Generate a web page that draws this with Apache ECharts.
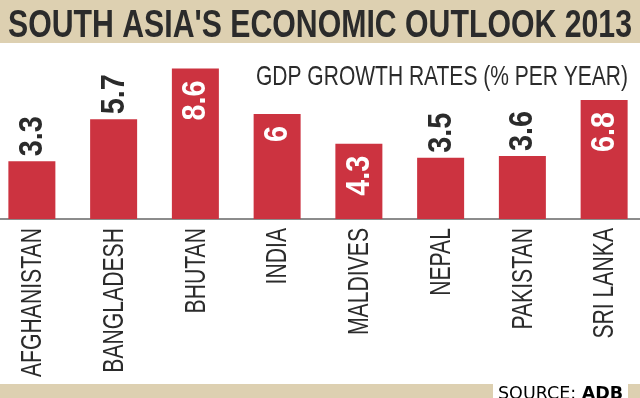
<!DOCTYPE html>
<html>
<head>
<meta charset="utf-8">
<script src="https://cdn.jsdelivr.net/npm/echarts@6/dist/echarts.min.js"></script>
<style>
  html, body { margin: 0; padding: 0; background: #fff; }
  #chart { width: 640px; height: 398px; }
</style>
</head>
<body>
<div id="chart"></div>
<script>
// data
var countries = ['AFGHANISTAN', 'BANGLADESH', 'BHUTAN', 'INDIA', 'MALDIVES', 'NEPAL', 'PAKISTAN', 'SRI LANKA'];
var growth = [3.3, 5.7, 8.6, 6, 4.3, 3.5, 3.6, 6.8];
// which values are printed inside the bar
var labelInside = ['BHUTAN', 'INDIA', 'MALDIVES', 'SRI LANKA'];

var face = "'Liberation Sans', Arial, sans-serif";
var red = '#cc3340';
var tan = '#ddd0b1';
var ink = '#2b2b2b';

// the original uses a condensed face, so squeeze the text to the measured widths
var ctx = document.createElement('canvas').getContext('2d');
function squeeze(text, font, width) {
    ctx.font = font;
    return width / ctx.measureText(text).width;
}
var titleFont = 'bold 39px ' + face;
var subFont = '28px ' + face;
var catFont = '30px ' + face;
var valFont = 'bold 33px ' + face;
var titleScale = squeeze("SOUTH ASIA'S ECONOMIC OUTLOOK 2013", titleFont, 624);
var subScale = squeeze('GDP GROWTH RATES (% PER YEAR)', subFont, 372);
var catScale = squeeze('AFGHANISTAN', catFont, 149);
var valScale = squeeze('3.3', valFont, 40);

var myChart = echarts.init(document.getElementById('chart'));
var option = {
    animation: false,
    backgroundColor: '#fff',
    grid: { left: -9, right: -5, top: 44, bottom: 179, outerBoundsMode: 'none', containLabel: false },
    xAxis: {
        type: 'category',
        data: countries,
        axisLine: { lineStyle: { color: '#8c8c8c', width: 2 } },
        axisTick: { show: false },
        axisLabel: { show: false }
    },
    yAxis: { type: 'value', min: 0, max: 10, show: false },
    series: [{
        type: 'bar',
        data: growth,
        barWidth: 47,
        itemStyle: { color: red }
    }, {
        // value labels, rotated and condensed
        type: 'custom',
        clip: false,
        z: 5,
        data: growth.map(function (v, i) { return [i, v]; }),
        renderItem: function (params, api) {
            var i = api.value(0);
            var p = api.coord([i, api.value(1)]);
            var inside = labelInside.indexOf(countries[i]) >= 0;
            return {
                type: 'text',
                x: p[0] + 1,
                y: inside ? p[1] + 12 : p[1] - 5,
                rotation: Math.PI / 2,
                scaleX: valScale,
                style: {
                    text: String(api.value(1)),
                    font: valFont,
                    fill: inside ? '#fff' : ink,
                    align: inside ? 'right' : 'left',
                    verticalAlign: 'middle'
                }
            };
        }
    }, {
        // country names under the axis
        type: 'custom',
        clip: false,
        z: 5,
        data: countries.map(function (c, i) { return [i, 0]; }),
        renderItem: function (params, api) {
            var i = api.value(0);
            var p = api.coord([i, 0]);
            return {
                type: 'text',
                x: p[0] + 1,
                y: p[1] + 9,
                rotation: Math.PI / 2,
                scaleX: catScale,
                style: {
                    text: countries[i],
                    font: catFont,
                    fill: ink,
                    align: 'right',
                    verticalAlign: 'middle'
                }
            };
        }
    }],
    graphic: [
        { type: 'rect', shape: { x: 0, y: 0, width: 640, height: 43 }, style: { fill: tan }, z: -1 },
        { type: 'rect', shape: { x: 0, y: 384, width: 640, height: 14 }, style: { fill: tan }, z: -1 },
        { type: 'rect', shape: { x: 493, y: 384, width: 135, height: 14 }, style: { fill: '#fff' }, z: 0 },
        {
            type: 'text', x: 8, y: 26, scaleX: titleScale,
            style: { text: "SOUTH ASIA'S ECONOMIC OUTLOOK 2013", font: titleFont, fill: ink, textVerticalAlign: 'middle' }
        },
        {
            type: 'text', x: 628, y: 77, scaleX: subScale,
            style: { text: 'GDP GROWTH RATES (% PER YEAR)', font: subFont, fill: ink, textAlign: 'right', textVerticalAlign: 'middle' }
        },
        {
            type: 'text', x: 498, y: 403,
            style: {
                text: '{a|SOURCE: }{b|ADB}',
                rich: {
                    a: { fontFamily: 'DejaVu Sans', fontSize: 17.5, color: ink },
                    b: { fontFamily: 'DejaVu Sans', fontSize: 17.5, fontWeight: 'bold', color: ink }
                },
                textVerticalAlign: 'bottom'
            }, z: 1
        }
    ]
};
myChart.setOption(option);
</script>
</body>
</html>
